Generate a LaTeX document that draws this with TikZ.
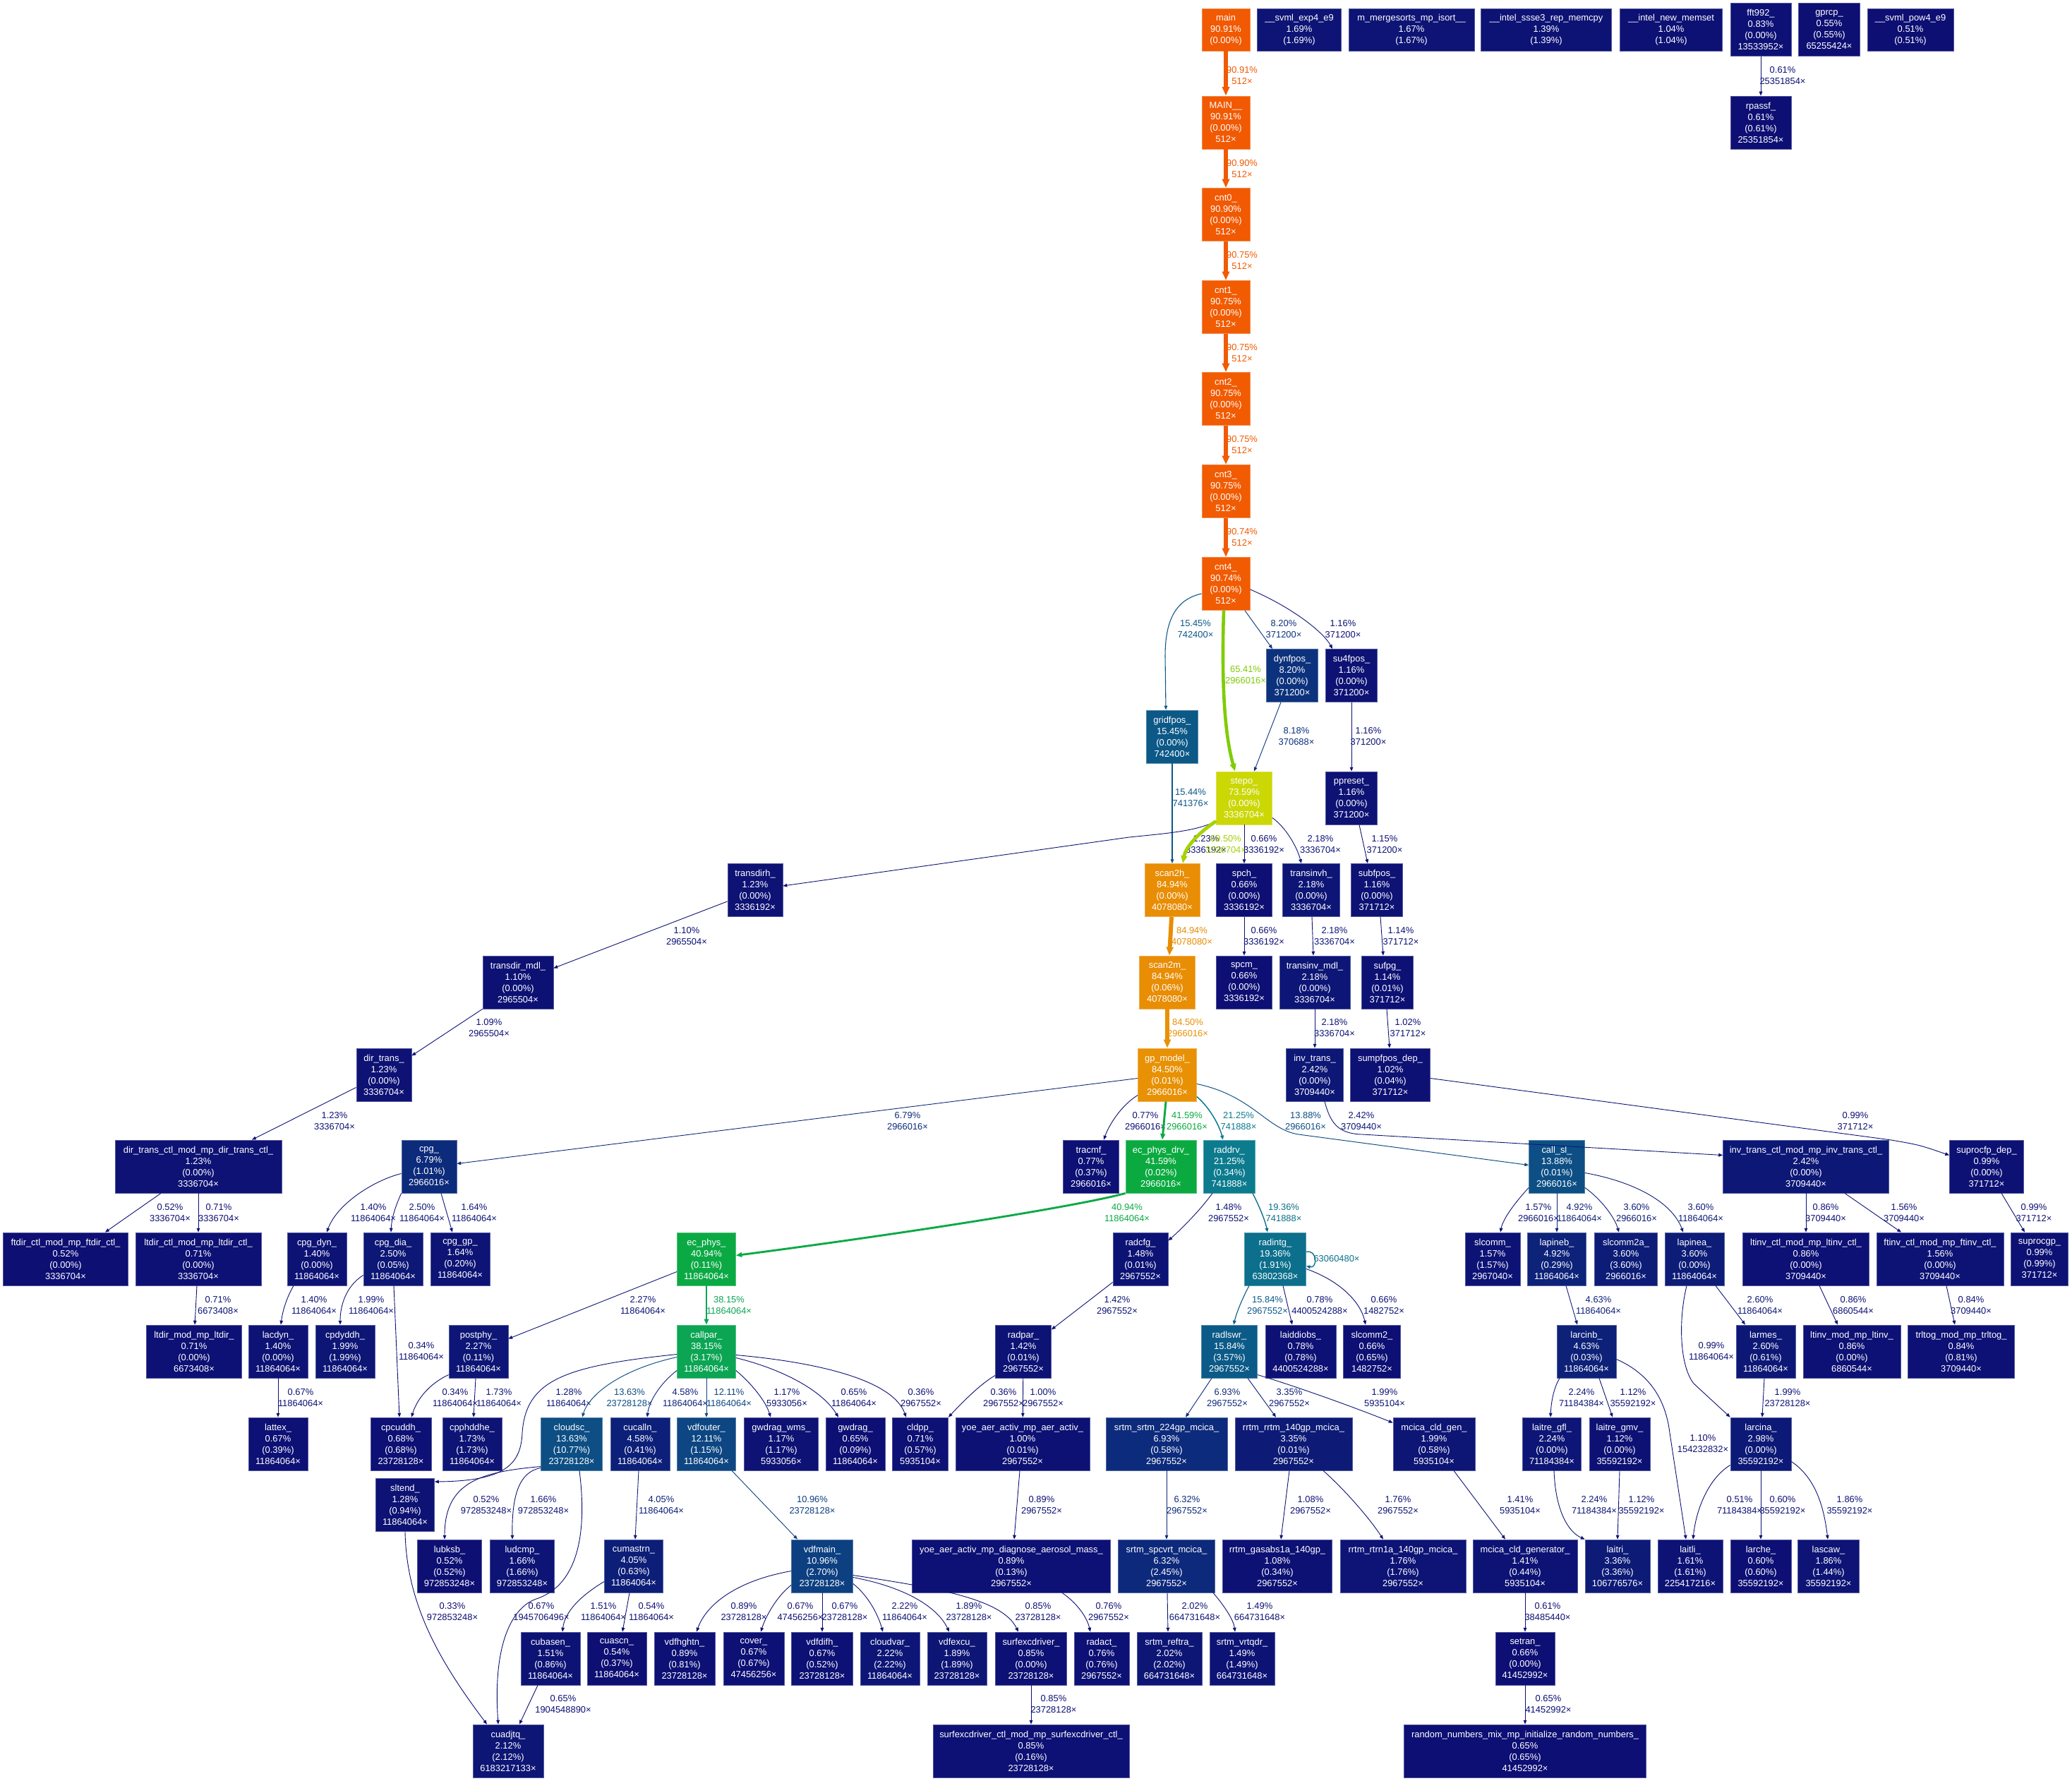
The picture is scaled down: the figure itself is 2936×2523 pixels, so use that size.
\documentclass[tikz,border=0pt]{standalone}
\usepackage{fontspec}
\setmainfont{Liberation Sans}
\usetikzlibrary{arrows.meta}
\newcommand\gphue[4]{%
  \pgfmathsetmacro\gpHx{mod(#4+1,1)}%
  \pgfmathparse{(\gpHx<1/6) ? (#2+(#3-#2)*\gpHx*6) : ((\gpHx<0.5) ? #3 : ((\gpHx<2/3) ? (#2+(#3-#2)*(2/3-\gpHx)*6) : #2))}%
  \let#1\pgfmathresult}
\newcommand\gpmkcol[2]{%
  \pgfmathsetmacro\gpH{(2/3)*(1-(#2)/100)}%
  \pgfmathsetmacro\gpS{0.8+0.2*(#2)/100}%
  \pgfmathsetmacro\gpLL{0.25+0.25*(#2)/100}%
  \pgfmathsetmacro\gpMb{\gpLL*(1+\gpS)}%
  \pgfmathsetmacro\gpMa{2*\gpLL-\gpMb}%
  \gphue\gpR\gpMa\gpMb{\gpH+1/3}%
  \gphue\gpG\gpMa\gpMb{\gpH}%
  \gphue\gpB\gpMa\gpMb{\gpH-1/3}%
  \definecolor{#1}{rgb}{\gpR,\gpG,\gpB}}
\newcommand\NF[4]{#1\\#2\%\\(#3\%)\\#4×}
\newcommand\NH[3]{#1\\#2\%\\(#3\%)}
\newcommand\EL[2]{#1\%\\#2×}
\tikzset{
  every node/.style={font=\fontsize{12.9}{16}\selectfont},
  nd/.code 2 args={\gpmkcol{ndc}{#1}\pgfkeysalso{rectangle,fill=ndc,draw=ndc!70!white,line width=0.8pt,text=white,align=center,minimum width=#2pt,minimum height=75pt,inner xsep=3pt,inner ysep=1pt}},
  short/.style={minimum height=60pt},
  ed/.code={%
    \pgfmathsetmacro\gpLW{max(7*(#1)/100,0.9)}%
    \pgfmathsetmacro\gpAL{13*max(sqrt((#1)/100),0.45)}%
    \pgfmathsetmacro\gpAW{0.8*\gpAL}%
    \gpmkcol{edc}{#1}%
    \edef\gpTmp{color=edc,line width=\gpLW pt,-{Triangle[length=\gpAL pt,width=\gpAW pt]}}%
    \expandafter\pgfkeysalso\expandafter{\gpTmp}},
  el/.style={align=center,inner sep=0pt},
}
\begin{document}
\begin{tikzpicture}[x=1pt,y=1pt]
\fill[white] (0,0) rectangle (2936,-2523);
\useasboundingbox (0,0) rectangle (2936,-2523);
% ---------------- nodes ----------------
\node[nd={90.91}{68},short] (main) at (1737,-42) {\NH{main}{90.91}{0.00}};
\node[nd={1.69}{119},short] (svmlexp) at (1841,-42) {\NH{\_\_svml\_exp4\_e9}{1.69}{1.69}};
\node[nd={1.67}{178},short] (merge) at (2000,-42) {\NH{m\_mergesorts\_mp\_isort\_\_}{1.67}{1.67}};
\node[nd={1.39}{185},short] (memcpy) at (2191,-42) {\NH{\_\_intel\_ssse3\_rep\_memcpy}{1.39}{1.39}};
\node[nd={1.04}{145},short] (memset) at (2368,-42) {\NH{\_\_intel\_new\_memset}{1.04}{1.04}};
\node[nd={0.83}{86}] (fft) at (2495,-42) {\NF{fft992\_}{0.83}{0.00}{13533952}};
\node[nd={0.55}{87}] (gprcp) at (2592,-42) {\NF{gprcp\_}{0.55}{0.55}{65255424}};
\node[nd={0.51}{122},short] (svmlpow) at (2707,-42) {\NH{\_\_svml\_pow4\_e9}{0.51}{0.51}};
\node[nd={90.91}{68}] (MAIN) at (1737,-173.5) {\NF{MAIN\_\_}{90.91}{0.00}{512}};
\node[nd={0.61}{86}] (rpassf) at (2495,-173.5) {\NF{rpassf\_}{0.61}{0.61}{25351854}};
\node[nd={90.90}{68}] (cnt0) at (1737,-304) {\NF{cnt0\_}{90.90}{0.00}{512}};
\node[nd={90.75}{68}] (cnt1) at (1737,-435) {\NF{cnt1\_}{90.75}{0.00}{512}};
\node[nd={90.75}{68}] (cnt2) at (1737,-565) {\NF{cnt2\_}{90.75}{0.00}{512}};
\node[nd={90.75}{68}] (cnt3) at (1737,-696) {\NF{cnt3\_}{90.75}{0.00}{512}};
\node[nd={90.74}{68}] (cnt4) at (1737,-827) {\NF{cnt4\_}{90.74}{0.00}{512}};
\node[nd={8.20}{73}] (dynfpos) at (1831,-957) {\NF{dynfpos\_}{8.20}{0.00}{371200}};
\node[nd={1.16}{73}] (su4fpos) at (1915,-957) {\NF{su4fpos\_}{1.16}{0.00}{371200}};
\node[nd={15.45}{73}] (gridfpos) at (1661,-1043.5) {\NF{gridfpos\_}{15.45}{0.00}{742400}};
\node[nd={73.59}{79}] (stepo) at (1763,-1130.5) {\NF{stepo\_}{73.59}{0.00}{3336704}};
\node[nd={1.16}{73}] (ppreset) at (1915,-1130.5) {\NF{ppreset\_}{1.16}{0.00}{371200}};
\node[nd={1.23}{78}] (transdirh) at (1070,-1261) {\NF{transdirh\_}{1.23}{0.00}{3336192}};
\node[nd={84.94}{78}] (scanh) at (1661,-1261) {\NF{scan2h\_}{84.94}{0.00}{4078080}};
\node[nd={0.66}{79}] (spch) at (1763,-1261) {\NF{spch\_}{0.66}{0.00}{3336192}};
\node[nd={2.18}{81}] (transinvh) at (1858,-1261) {\NF{transinvh\_}{2.18}{0.00}{3336704}};
\node[nd={1.16}{73}] (subfpos) at (1951,-1261) {\NF{subfpos\_}{1.16}{0.00}{371712}};
\node[nd={1.10}{100}] (transdirmdl) at (734,-1391.5) {\NF{transdir\_mdl\_}{1.10}{0.00}{2965504}};
\node[nd={84.94}{79}] (scanm) at (1654,-1391.5) {\NF{scan2m\_}{84.94}{0.06}{4078080}};
\node[nd={0.66}{79}] (spcm) at (1763,-1391.5) {\NF{spcm\_}{0.66}{0.00}{3336192}};
\node[nd={2.18}{100}] (transinvmdl) at (1863,-1391.5) {\NF{transinv\_mdl\_}{2.18}{0.00}{3336704}};
\node[nd={1.14}{73}] (sufpg) at (1966,-1391.5) {\NF{sufpg\_}{1.14}{0.01}{371712}};
\node[nd={1.23}{78}] (dirtrans) at (544,-1522.5) {\NF{dir\_trans\_}{1.23}{0.00}{3336704}};
\node[nd={84.50}{83}] (gpmodel) at (1654,-1522.5) {\NF{gp\_model\_}{84.50}{0.01}{2966016}};
\node[nd={2.42}{81}] (invtrans) at (1863,-1522.5) {\NF{inv\_trans\_}{2.42}{0.00}{3709440}};
\node[nd={1.02}{113}] (sumpfpos) at (1970,-1522.5) {\NF{sumpfpos\_dep\_}{1.02}{0.04}{371712}};
\node[nd={1.23}{236}] (dirtransctl) at (281,-1652.5) {\NF{dir\_trans\_ctl\_mod\_mp\_dir\_trans\_ctl\_}{1.23}{0.00}{3336704}};
\node[nd={6.79}{78}] (cpg) at (608,-1652.5) {\NF{cpg\_}{6.79}{1.01}{2966016}};
\node[nd={0.77}{79}] (tracmf) at (1546,-1652.5) {\NF{tracmf\_}{0.77}{0.37}{2966016}};
\node[nd={41.59}{100}] (ecphysdrv) at (1645,-1652.5) {\NF{ec\_phys\_drv\_}{41.59}{0.02}{2966016}};
\node[nd={21.25}{73}] (raddrv) at (1742,-1652.5) {\NF{raddrv\_}{21.25}{0.34}{741888}};
\node[nd={13.88}{79}] (callsl) at (2206,-1652.5) {\NF{call\_sl\_}{13.88}{0.01}{2966016}};
\node[nd={2.42}{235}] (invtransctl) at (2559,-1652.5) {\NF{inv\_trans\_ctl\_mod\_mp\_inv\_trans\_ctl\_}{2.42}{0.00}{3709440}};
\node[nd={0.99}{105}] (suprocfp) at (2815,-1652.5) {\NF{suprocfp\_dep\_}{0.99}{0.00}{371712}};
\node[nd={0.52}{177}] (ftdirctl) at (93,-1783.5) {\NF{ftdir\_ctl\_mod\_mp\_ftdir\_ctl\_}{0.52}{0.00}{3336704}};
\node[nd={0.71}{178}] (ltdirctl) at (281,-1783.5) {\NF{ltdir\_ctl\_mod\_mp\_ltdir\_ctl\_}{0.71}{0.00}{3336704}};
\node[nd={1.40}{84}] (cpgdyn) at (449,-1783.5) {\NF{cpg\_dyn\_}{1.40}{0.00}{11864064}};
\node[nd={2.50}{84}] (cpgdia) at (557,-1783.5) {\NF{cpg\_dia\_}{2.50}{0.05}{11864064}};
\node[nd={1.64}{84}] (cpggp) at (652,-1783.5) {\NF{cpg\_gp\_}{1.64}{0.20}{11864064}};
\node[nd={40.94}{83}] (ecphys) at (1001,-1783.5) {\NF{ec\_phys\_}{40.94}{0.11}{11864064}};
\node[nd={1.48}{78}] (radcfg) at (1616,-1783.5) {\NF{radcfg\_}{1.48}{0.01}{2967552}};
\node[nd={19.36}{87}] (radintg) at (1807,-1783.5) {\NF{radintg\_}{19.36}{1.91}{63802368}};
\node[nd={1.57}{78}] (slcomm) at (2115,-1783.5) {\NF{slcomm\_}{1.57}{1.57}{2967040}};
\node[nd={4.92}{83}] (lapineb) at (2206,-1783.5) {\NF{lapineb\_}{4.92}{0.29}{11864064}};
\node[nd={3.60}{89}] (slcommtwoa) at (2304,-1783.5) {\NF{slcomm2a\_}{3.60}{3.60}{2966016}};
\node[nd={3.60}{84}] (lapinea) at (2401,-1783.5) {\NF{lapinea\_}{3.60}{0.00}{11864064}};
\node[nd={0.86}{179}] (ltinvctl) at (2559,-1783.5) {\NF{ltinv\_ctl\_mod\_mp\_ltinv\_ctl\_}{0.86}{0.00}{3709440}};
\node[nd={1.56}{180}] (ftinvctl) at (2749,-1783.5) {\NF{ftinv\_ctl\_mod\_mp\_ftinv\_ctl\_}{1.56}{0.00}{3709440}};
\node[nd={0.99}{81}] (suprocgp) at (2890,-1783.5) {\NF{suprocgp\_}{0.99}{0.99}{371712}};
\node[nd={0.71}{135}] (ltdir) at (275,-1914.5) {\NF{ltdir\_mod\_mp\_ltdir\_}{0.71}{0.00}{6673408}};
\node[nd={1.40}{84}] (lacdyn) at (394,-1914.5) {\NF{lacdyn\_}{1.40}{0.00}{11864064}};
\node[nd={1.99}{84}] (cpdyddh) at (489,-1914.5) {\NF{cpdyddh\_}{1.99}{1.99}{11864064}};
\node[nd={2.27}{84}] (postphy) at (678,-1914.5) {\NF{postphy\_}{2.27}{0.11}{11864064}};
\node[nd={38.15}{83}] (callpar) at (1001,-1914.5) {\NF{callpar\_}{38.15}{3.17}{11864064}};
\node[nd={1.42}{79}] (radpar) at (1450,-1914.5) {\NF{radpar\_}{1.42}{0.01}{2967552}};
\node[nd={15.84}{79}] (radlswr) at (1742,-1914.5) {\NF{radlswr\_}{15.84}{3.57}{2967552}};
\node[nd={0.78}{100}] (laiddiobs) at (1843,-1914.5) {\NF{laiddiobs\_}{0.78}{0.78}{4400524288}};
\node[nd={0.66}{81}] (slcommtwo) at (1944,-1914.5) {\NF{slcomm2\_}{0.66}{0.65}{1482752}};
\node[nd={4.63}{84}] (larcinb) at (2248,-1914.5) {\NF{larcinb\_}{4.63}{0.03}{11864064}};
\node[nd={2.60}{84}] (larmes) at (2502,-1914.5) {\NF{larmes\_}{2.60}{0.61}{11864064}};
\node[nd={0.86}{138}] (ltinv) at (2624,-1914.5) {\NF{ltinv\_mod\_mp\_ltinv\_}{0.86}{0.00}{6860544}};
\node[nd={0.84}{151}] (trltog) at (2779,-1914.5) {\NF{trltog\_mod\_mp\_trltog\_}{0.84}{0.81}{3709440}};
\node[nd={0.67}{84}] (lattex) at (394,-2045.5) {\NF{lattex\_}{0.67}{0.39}{11864064}};
\node[nd={0.68}{86}] (cpcuddh) at (568,-2045.5) {\NF{cpcuddh\_}{0.68}{0.68}{23728128}};
\node[nd={1.73}{84}] (cpphddhe) at (669,-2045.5) {\NF{cpphddhe\_}{1.73}{1.73}{11864064}};
\node[nd={13.63}{87}] (cloudsc) at (810,-2045.5) {\NF{cloudsc\_}{13.63}{10.77}{23728128}};
\node[nd={4.58}{84}] (cucalln) at (907,-2045.5) {\NF{cucalln\_}{4.58}{0.41}{11864064}};
\node[nd={12.11}{83}] (vdfouter) at (1001,-2045.5) {\NF{vdfouter\_}{12.11}{1.15}{11864064}};
\node[nd={1.17}{105}] (gwdragwms) at (1107,-2045.5) {\NF{gwdrag\_wms\_}{1.17}{1.17}{5933056}};
\node[nd={0.65}{84}] (gwdrag) at (1212,-2045.5) {\NF{gwdrag\_}{0.65}{0.09}{11864064}};
\node[nd={0.71}{79}] (cldpp) at (1304,-2045.5) {\NF{cldpp\_}{0.71}{0.57}{5935104}};
\node[nd={1.00}{190}] (yoeactiv) at (1449,-2045.5) {\NF{yoe\_aer\_activ\_mp\_aer\_activ\_}{1.00}{0.01}{2967552}};
\node[nd={6.93}{172}] (srtmsrtm) at (1653,-2045.5) {\NF{srtm\_srtm\_224gp\_mcica\_}{6.93}{0.58}{2967552}};
\node[nd={3.35}{166}] (rrtmrrtm) at (1833,-2045.5) {\NF{rrtm\_rrtm\_140gp\_mcica\_}{3.35}{0.01}{2967552}};
\node[nd={1.99}{116}] (mcicagen) at (2032,-2045.5) {\NF{mcica\_cld\_gen\_}{1.99}{0.58}{5935104}};
\node[nd={2.24}{83}] (laitregfl) at (2199,-2045.5) {\NF{laitre\_gfl\_}{2.24}{0.00}{71184384}};
\node[nd={1.12}{86}] (laitregmv) at (2295,-2045.5) {\NF{laitre\_gmv\_}{1.12}{0.00}{35592192}};
\node[nd={2.98}{86}] (larcina) at (2495,-2045.5) {\NF{larcina\_}{2.98}{0.00}{35592192}};
\node[nd={1.28}{83}] (sltend) at (574,-2132) {\NF{sltend\_}{1.28}{0.94}{11864064}};
\node[nd={0.52}{91}] (lubksb) at (637,-2218.5) {\NF{lubksb\_}{0.52}{0.52}{972853248}};
\node[nd={1.66}{91}] (ludcmp) at (740,-2218.5) {\NF{ludcmp\_}{1.66}{1.66}{972853248}};
\node[nd={4.05}{83}] (cumastrn) at (898,-2218.5) {\NF{cumastrn\_}{4.05}{0.63}{11864064}};
\node[nd={10.96}{87}] (vdfmain) at (1165,-2218.5) {\NF{vdfmain\_}{10.96}{2.70}{23728128}};
\node[nd={0.89}{281}] (yoediag) at (1433,-2218.5) {\NF{yoe\_aer\_activ\_mp\_diagnose\_aerosol\_mass\_}{0.89}{0.13}{2967552}};
\node[nd={6.32}{137}] (srtmspcvrt) at (1653,-2218.5) {\NF{srtm\_spcvrt\_mcica\_}{6.32}{2.45}{2967552}};
\node[nd={1.08}{155}] (rrtmgasabs) at (1810,-2218.5) {\NF{rrtm\_gasabs1a\_140gp\_}{1.08}{0.34}{2967552}};
\node[nd={1.76}{178}] (rrtmrtrn) at (1988,-2218.5) {\NF{rrtm\_rtrn1a\_140gp\_mcica\_}{1.76}{1.76}{2967552}};
\node[nd={1.41}{148}] (mcicagenerator) at (2161,-2218.5) {\NF{mcica\_cld\_generator\_}{1.41}{0.44}{5935104}};
\node[nd={3.36}{92}] (laitri) at (2292,-2218.5) {\NF{laitri\_}{3.36}{3.36}{106776576}};
\node[nd={1.61}{92}] (laitli) at (2395,-2218.5) {\NF{laitli\_}{1.61}{1.61}{225417216}};
\node[nd={0.60}{86}] (larche) at (2495,-2218.5) {\NF{larche\_}{0.60}{0.60}{35592192}};
\node[nd={1.86}{87}] (lascaw) at (2591,-2218.5) {\NF{lascaw\_}{1.86}{1.44}{35592192}};
\node[nd={1.51}{84}] (cubasen) at (780,-2349.5) {\NF{cubasen\_}{1.51}{0.86}{11864064}};
\node[nd={0.54}{84}] (cuascn) at (874,-2349.5) {\NF{cuascn\_}{0.54}{0.37}{11864064}};
\node[nd={0.89}{86}] (vdfhghtn) at (970,-2349.5) {\NF{vdfhghtn\_}{0.89}{0.81}{23728128}};
\node[nd={0.67}{86}] (cover) at (1068,-2349.5) {\NF{cover\_}{0.67}{0.67}{47456256}};
\node[nd={0.67}{87}] (vdfdifh) at (1165,-2349.5) {\NF{vdfdifh\_}{0.67}{0.52}{23728128}};
\node[nd={2.22}{84}] (cloudvar) at (1261,-2349.5) {\NF{cloudvar\_}{2.22}{2.22}{11864064}};
\node[nd={1.89}{84}] (vdfexcu) at (1356,-2349.5) {\NF{vdfexcu\_}{1.89}{1.89}{23728128}};
\node[nd={0.85}{101}] (surfexc) at (1461,-2349.5) {\NF{surfexcdriver\_}{0.85}{0.00}{23728128}};
\node[nd={0.76}{78}] (radact) at (1561,-2349.5) {\NF{radact\_}{0.76}{0.76}{2967552}};
\node[nd={2.02}{92}] (srtmreftra) at (1657,-2349.5) {\NF{srtm\_reftra\_}{2.02}{2.02}{664731648}};
\node[nd={1.49}{92}] (srtmvrtqdr) at (1760,-2349.5) {\NF{srtm\_vrtqdr\_}{1.49}{1.49}{664731648}};
\node[nd={0.66}{84}] (setran) at (2161,-2349.5) {\NF{setran\_}{0.66}{0.00}{41452992}};
\node[nd={2.12}{100}] (cuadjtq) at (720,-2480.5) {\NF{cuadjtq\_}{2.12}{2.12}{6183217133}};
\node[nd={0.85}{278}] (surfexcctl) at (1461,-2480.5) {\NF{surfexcdriver\_ctl\_mod\_mp\_surfexcdriver\_ctl\_}{0.85}{0.16}{23728128}};
\node[nd={0.65}{343}] (random) at (2161,-2480.5) {\NF{random\_numbers\_mix\_mp\_initialize\_random\_numbers\_}{0.65}{0.65}{41452992}};
% ---------------- edges ----------------
\draw[ed=90.91] (main) -- (MAIN) node[el,at={(1760,-107)}] {\EL{90.91}{512}};
\draw[ed=90.90] (MAIN) -- (cnt0) node[el,at={(1760,-239)}] {\EL{90.90}{512}};
\draw[ed=90.75] (cnt0) -- (cnt1) node[el,at={(1760,-369)}] {\EL{90.75}{512}};
\draw[ed=90.75] (cnt1) -- (cnt2) node[el,at={(1760,-500)}] {\EL{90.75}{512}};
\draw[ed=90.75] (cnt2) -- (cnt3) node[el,at={(1760,-630)}] {\EL{90.75}{512}};
\draw[ed=90.74] (cnt3) -- (cnt4) node[el,at={(1760,-761)}] {\EL{90.74}{512}};
\draw[ed=0.61] (fft) -- (rpassf) node[el,at={(2526,-107)}] {\EL{0.61}{25351854}};
\draw[ed=15.45] ([yshift=-14pt]cnt4.west) .. controls (1662,-850) and (1651,-885) .. (1651,-930) -- ([xshift=-9pt]gridfpos.north) node[el,at={(1694,-891)}] {\EL{15.45}{742400}};
\draw[ed=65.41] ([xshift=-3pt]cnt4.south) .. controls (1730,-990) and (1738,-1050) .. ([xshift=-13pt]stepo.north) node[el,at={(1765,-956)}] {\EL{65.41}{2966016}};
\draw[ed=8.20] ([xshift=27pt]cnt4.south) -- ([xshift=-28pt]dynfpos.north) node[el,at={(1819,-891)}] {\EL{8.20}{371200}};
\draw[ed=1.16] ([yshift=-8pt]cnt4.east) .. controls (1830,-860) and (1875,-895) .. ([xshift=-27pt]su4fpos.north) node[el,at={(1903,-891)}] {\EL{1.16}{371200}};
\draw[ed=15.44] (gridfpos) -- (scanh) node[el,at={(1687,-1130)}] {\EL{15.44}{741376}};
\draw[ed=8.18] ([xshift=-16pt]dynfpos.south) -- ([xshift=14pt]stepo.north) node[el,at={(1837,-1043)}] {\EL{8.18}{370688}};
\draw[ed=1.16] (su4fpos) -- (ppreset) node[el,at={(1939,-1043)}] {\EL{1.16}{371200}};
\draw[ed=1.23] ([yshift=5pt]stepo.south west) .. controls (1695,-1177) and (1660,-1180) .. (1600,-1186) -- ([yshift=6pt]transdirh.east) node[el,at={(1709,-1196)}] {\EL{1.23}{3336192}};
\draw[ed=69.50] ([yshift=5pt]stepo.south west) .. controls (1700,-1178) and (1680,-1200) .. ([xshift=15pt]scanh.north) node[el,at={(1737,-1196)}] {\EL{69.50}{3336704}};
\draw[ed=0.66] (stepo) -- (spch) node[el,at={(1791,-1196)}] {\EL{0.66}{3336192}};
\draw[ed=2.18] ([yshift=-28pt]stepo.east) .. controls (1822,-1172) and (1838,-1200) .. ([xshift=-14pt]transinvh.north) node[el,at={(1871,-1196)}] {\EL{2.18}{3336704}};
\draw[ed=1.15] ([xshift=11pt]ppreset.south) -- ([xshift=-13pt]subfpos.north) node[el,at={(1962,-1196)}] {\EL{1.15}{371200}};
\draw[ed=84.94] ([xshift=-1pt]scanh.south) -- ([xshift=3pt]scanm.north) node[el,at={(1689,-1326)}] {\EL{84.94}{4078080}};
\draw[ed=0.66] (spch) -- (spcm) node[el,at={(1791,-1326)}] {\EL{0.66}{3336192}};
\draw[ed=2.18] ([xshift=1pt]transinvh.south) -- ([xshift=-2pt]transinvmdl.north) node[el,at={(1891,-1326)}] {\EL{2.18}{3336704}};
\draw[ed=1.14] ([xshift=5pt]subfpos.south) -- ([xshift=-6pt]sufpg.north) node[el,at={(1985,-1326)}] {\EL{1.14}{371712}};
\draw[ed=1.10] ([yshift=-16pt]transdirh.west) -- ([yshift=20pt]transdirmdl.east) node[el,at={(973,-1326)}] {\EL{1.10}{2965504}};
\draw[ed=84.50] (scanm) -- (gpmodel) node[el,at={(1683,-1456)}] {\EL{84.50}{2966016}};
\draw[ed=2.18] (transinvmdl) -- (invtrans) node[el,at={(1891,-1456)}] {\EL{2.18}{3336704}};
\draw[ed=1.02] ([xshift=-1pt]sufpg.south) -- ([xshift=-1pt]sumpfpos.north) node[el,at={(1995,-1456)}] {\EL{1.02}{371712}};
\draw[ed=1.09] (transdirmdl.south west) -- ([yshift=27pt]dirtrans.east) node[el,at={(693,-1456)}] {\EL{1.09}{2965504}};
\draw[ed=1.23] ([yshift=-18pt]dirtrans.west) -- ([xshift=76pt]dirtransctl.north) node[el,at={(474,-1588)}] {\EL{1.23}{3336704}};
\draw[ed=6.79] ([yshift=-5pt]gpmodel.west) -- ([yshift=4pt]cpg.east) node[el,at={(1286,-1588)}] {\EL{6.79}{2966016}};
\draw[ed=0.77] ([yshift=-29pt]gpmodel.west) .. controls (1590,-1565) and (1572,-1592) .. ([xshift=18pt]tracmf.north) node[el,at={(1623,-1588)}] {\EL{0.77}{2966016}};
\draw[ed=41.59] ([xshift=-2pt]gpmodel.south) -- ([xshift=2pt]ecphysdrv.north) node[el,at={(1682,-1588)}] {\EL{41.59}{2966016}};
\draw[ed=21.25] ([yshift=-31pt]gpmodel.east) .. controls (1715,-1570) and (1728,-1595) .. ([xshift=-9pt]raddrv.north) node[el,at={(1755,-1588)}] {\EL{21.25}{741888}};
\draw[ed=13.88] ([yshift=-13pt]gpmodel.east) .. controls (1775,-1552) and (1795,-1600) .. (1840,-1607) -- ([yshift=2pt]callsl.west) node[el,at={(1850,-1588)}] {\EL{13.88}{2966016}};
\draw[ed=2.42] ([xshift=14pt]invtrans.south) .. controls (1885,-1590) and (1895,-1606) .. (1930,-1607) -- ([yshift=16pt]invtransctl.west) node[el,at={(1929,-1588)}] {\EL{2.42}{3709440}};
\draw[ed=0.99] ([yshift=-5pt]sumpfpos.east) -- (2680,-1615) .. controls (2720,-1622) .. ([yshift=16pt]suprocfp.west) node[el,at={(2629,-1588)}] {\EL{0.99}{371712}};
\draw[ed=0.52] ([xshift=-53pt]dirtransctl.south) -- ([xshift=56pt]ftdirctl.north) node[el,at={(241,-1718)}] {\EL{0.52}{3336704}};
\draw[ed=0.71] (dirtransctl) -- (ltdirctl) node[el,at={(310,-1718)}] {\EL{0.71}{3336704}};
\draw[ed=0.71] ([xshift=-2pt]ltdirctl.south) -- ([xshift=1pt]ltdir.north) node[el,at={(309,-1849)}] {\EL{0.71}{6673408}};
\draw[ed=1.40] ([yshift=-10pt]cpg.west) .. controls (530,-1672) and (478,-1705) .. ([xshift=14pt]cpgdyn.north) node[el,at={(529,-1718)}] {\EL{1.40}{11864064}};
\draw[ed=2.50] (cpg.south west) .. controls (560,-1710) and (555,-1725) .. ([xshift=-3pt]cpgdia.north) node[el,at={(598,-1718)}] {\EL{2.50}{11864064}};
\draw[ed=1.64] ([xshift=17pt]cpg.south) -- ([xshift=-11pt]cpggp.north) node[el,at={(672,-1718)}] {\EL{1.64}{11864064}};
\draw[ed=1.40] ([xshift=-33pt]cpgdyn.south) .. controls (405,-1840) and (400,-1860) .. ([xshift=4pt]lacdyn.north) node[el,at={(445,-1849)}] {\EL{1.40}{11864064}};
\draw[ed=1.99] ([yshift=-23pt]cpgdia.west) .. controls (490,-1822) and (482,-1850) .. ([xshift=-7pt]cpdyddh.north) node[el,at={(526,-1849)}] {\EL{1.99}{11864064}};
\draw[ed=0.34] ([xshift=1pt]cpgdia.south) -- ([xshift=-2pt]cpcuddh.north) node[el,at={(597,-1914)}] {\EL{0.34}{11864064}};
\draw[ed=0.67] (lacdyn) -- (lattex) node[el,at={(426,-1980)}] {\EL{0.67}{11864064}};
\draw[ed=0.34] ([yshift=-33pt]postphy.west) .. controls (605,-1962) and (590,-1985) .. ([xshift=15pt]cpcuddh.north) node[el,at={(645,-1980)}] {\EL{0.34}{11864064}};
\draw[ed=1.73] ([xshift=-4pt]postphy.south) -- ([xshift=2pt]cpphddhe.north) node[el,at={(707,-1980)}] {\EL{1.73}{11864064}};
\draw[ed=2.27] ([yshift=-18pt]ecphys.west) -- ([yshift=18pt]postphy.east) node[el,at={(911,-1849)}] {\EL{2.27}{11864064}};
\draw[ed=40.94] (ecphysdrv.south west) .. controls (1530,-1708) and (1300,-1745) .. ([yshift=5pt]ecphys.east) node[el,at={(1597,-1718)}] {\EL{40.94}{11864064}};
\draw[ed=38.15] (ecphys) -- (callpar) node[el,at={(1033,-1849)}] {\EL{38.15}{11864064}};
\draw[ed=1.28] ([yshift=-4pt]callpar.west) .. controls (800,-1935) and (745,-1955) .. (740,-2030) .. controls (738,-2075) and (715,-2098) .. ([yshift=33pt]sltend.east) node[el,at={(806,-1980)}] {\EL{1.28}{11864064}};
\draw[ed=13.63] ([yshift=-8pt]callpar.west) .. controls (880,-1940) and (835,-1975) .. ([xshift=15pt]cloudsc.north) node[el,at={(892,-1980)}] {\EL{13.63}{23728128}};
\draw[ed=4.58] ([yshift=-27pt]callpar.west) .. controls (935,-1960) and (920,-1985) .. ([xshift=10pt]cucalln.north) node[el,at={(971,-1980)}] {\EL{4.58}{11864064}};
\draw[ed=12.11] (callpar) -- (vdfouter) node[el,at={(1033,-1980)}] {\EL{12.11}{11864064}};
\draw[ed=1.17] ([yshift=-27pt]callpar.east) .. controls (1065,-1960) and (1085,-1985) .. ([xshift=-15pt]gwdragwms.north) node[el,at={(1115,-1980)}] {\EL{1.17}{5933056}};
\draw[ed=0.65] ([yshift=-9pt]callpar.east) .. controls (1110,-1940) and (1165,-1970) .. ([xshift=-24pt]gwdrag.north) node[el,at={(1210,-1980)}] {\EL{0.65}{11864064}};
\draw[ed=0.36] ([yshift=-5pt]callpar.east) .. controls (1160,-1930) and (1265,-1955) .. ([xshift=-20pt]cldpp.north) node[el,at={(1305,-1980)}] {\EL{0.36}{2967552}};
\draw[ed=0.36] ([yshift=-34pt]radpar.west) .. controls (1390,-1960) and (1365,-1985) .. (cldpp.north east) node[el,at={(1422,-1980)}] {\EL{0.36}{2967552}};
\draw[ed=1.00] (radpar) -- (yoeactiv) node[el,at={(1478,-1980)}] {\EL{1.00}{2967552}};
\draw[ed=0.52] ([yshift=-32pt]cloudsc.west) .. controls (680,-2085) and (630,-2100) .. ([xshift=-7pt]lubksb.north) node[el,at={(689,-2132)}] {\EL{0.52}{972853248}};
\draw[ed=1.66] ([yshift=-34pt]cloudsc.west) .. controls (735,-2085) and (725,-2120) .. ([xshift=-14pt]ludcmp.north) node[el,at={(770,-2132)}] {\EL{1.66}{972853248}};
\draw[ed=0.67] ([xshift=11pt]cloudsc.south) .. controls (832,-2170) and (820,-2245) .. (760,-2265) .. controls (725,-2277) and (698,-2330) .. ([xshift=-14pt]cuadjtq.north) node[el,at={(767,-2283)}] {\EL{0.67}{1945706496}};
\draw[ed=0.33] (sltend.south) .. controls (576,-2270) and (620,-2350) .. ([xshift=-30pt]cuadjtq.north) node[el,at={(641,-2283)}] {\EL{0.33}{972853248}};
\draw[ed=0.65] ([xshift=-18pt]cubasen.south) -- ([xshift=16pt]cuadjtq.north) node[el,at={(798,-2414)}] {\EL{0.65}{1904548890}};
\draw[ed=4.05] ([xshift=-2pt]cucalln.south) -- ([xshift=2pt]cumastrn.north) node[el,at={(937,-2132)}] {\EL{4.05}{11864064}};
\draw[ed=10.96] ([xshift=36pt]vdfouter.south) -- ([xshift=-35pt]vdfmain.north) node[el,at={(1151,-2132)}] {\EL{10.96}{23728128}};
\draw[ed=0.89] ([xshift=-4pt]yoeactiv.south) -- ([xshift=4pt]yoediag.north) node[el,at={(1476,-2132)}] {\EL{0.89}{2967552}};
\draw[ed=1.51] ([yshift=-22pt]cumastrn.west) .. controls (820,-2262) and (800,-2285) .. ([xshift=17pt]cubasen.north) node[el,at={(855,-2283)}] {\EL{1.51}{11864064}};
\draw[ed=0.54] ([xshift=-6pt]cumastrn.south) -- ([xshift=8pt]cuascn.north) node[el,at={(923,-2283)}] {\EL{0.54}{11864064}};
\draw[ed=0.89] ([yshift=-7pt]vdfmain.west) .. controls (1040,-2240) and (1000,-2275) .. ([xshift=17pt]vdfhghtn.north) node[el,at={(1054,-2283)}] {\EL{0.89}{23728128}};
\draw[ed=0.67] ([yshift=-27pt]vdfmain.west) .. controls (1100,-2262) and (1085,-2290) .. ([xshift=10pt]cover.north) node[el,at={(1134,-2283)}] {\EL{0.67}{47456256}};
\draw[ed=0.67] (vdfmain) -- (vdfdifh) node[el,at={(1197,-2283)}] {\EL{0.67}{23728128}};
\draw[ed=2.22] ([yshift=-25pt]vdfmain.east) .. controls (1232,-2262) and (1245,-2290) .. ([xshift=-10pt]cloudvar.north) node[el,at={(1282,-2283)}] {\EL{2.22}{11864064}};
\draw[ed=1.89] ([yshift=-16pt]vdfmain.east) .. controls (1290,-2250) and (1330,-2280) .. ([xshift=-11pt]vdfexcu.north) node[el,at={(1373,-2283)}] {\EL{1.89}{23728128}};
\draw[ed=0.85] ([yshift=-13pt]vdfmain.east) .. controls (1330,-2250) and (1420,-2265) .. ([xshift=-18pt]surfexc.north) node[el,at={(1471,-2283)}] {\EL{0.85}{23728128}};
\draw[ed=0.85] (surfexc) -- (surfexcctl) node[el,at={(1493,-2414)}] {\EL{0.85}{23728128}};
\draw[ed=0.76] ([xshift=72pt]yoediag.south) .. controls (1525,-2270) and (1540,-2290) .. ([xshift=-16pt]radact.north) node[el,at={(1571,-2283)}] {\EL{0.76}{2967552}};
\draw[ed=1.48] ([xshift=-24pt]raddrv.south) .. controls (1700,-1715) and (1675,-1740) .. ([yshift=26pt]radcfg.east) node[el,at={(1741,-1718)}] {\EL{1.48}{2967552}};
\draw[ed=19.36] ([xshift=33pt]raddrv.south) .. controls (1785,-1710) and (1793,-1730) .. ([xshift=-11pt]radintg.north) node[el,at={(1819,-1718)}] {\EL{19.36}{741888}};
\draw[ed=19.36] ([yshift=10pt]radintg.east) .. controls +(16,4) and +(16,-4) .. ([yshift=-10pt]radintg.east) node[el,at={(1894,-1783)}] {63060480×};
\draw[ed=1.42] ([yshift=-33pt]radcfg.west) -- ([yshift=31pt]radpar.east) node[el,at={(1583,-1849)}] {\EL{1.42}{2967552}};
\draw[ed=15.84] ([xshift=-37pt]radintg.south) .. controls (1760,-1840) and (1752,-1860) .. ([xshift=6pt]radlswr.north) node[el,at={(1796,-1849)}] {\EL{15.84}{2967552}};
\draw[ed=0.78] ([xshift=11pt]radintg.south) -- ([xshift=-12pt]laiddiobs.north) node[el,at={(1870,-1849)}] {\EL{0.78}{4400524288}};
\draw[ed=0.66] ([yshift=-14pt]radintg.east) .. controls (1900,-1815) and (1928,-1845) .. ([xshift=-9pt]slcommtwo.north) node[el,at={(1961,-1849)}] {\EL{0.66}{1482752}};
\draw[ed=6.93] ([xshift=-25pt]radlswr.south) -- ([xshift=27pt]srtmsrtm.north) node[el,at={(1739,-1980)}] {\EL{6.93}{2967552}};
\draw[ed=3.35] ([xshift=26pt]radlswr.south) -- ([xshift=-25pt]rrtmrrtm.north) node[el,at={(1827,-1980)}] {\EL{3.35}{2967552}};
\draw[ed=1.99] ([yshift=-33pt]radlswr.east) .. controls (1830,-1962) and (1910,-1990) .. ([yshift=30pt]mcicagen.west) node[el,at={(1962,-1980)}] {\EL{1.99}{5935104}};
\draw[ed=6.32] (srtmsrtm) -- (srtmspcvrt) node[el,at={(1682,-2132)}] {\EL{6.32}{2967552}};
\draw[ed=1.08] ([xshift=-6pt]rrtmrrtm.south) -- ([xshift=5pt]rrtmgasabs.north) node[el,at={(1857,-2132)}] {\EL{1.08}{2967552}};
\draw[ed=1.76] ([xshift=42pt]rrtmrrtm.south) .. controls (1905,-2110) and (1940,-2150) .. ([xshift=-28pt]rrtmrtrn.north) node[el,at={(1981,-2132)}] {\EL{1.76}{2967552}};
\draw[ed=1.41] ([xshift=28pt]mcicagen.south) -- ([xshift=-28pt]mcicagenerator.north) node[el,at={(2154,-2132)}] {\EL{1.41}{5935104}};
\draw[ed=2.02] ([xshift=1pt]srtmspcvrt.south) -- ([xshift=-2pt]srtmreftra.north) node[el,at={(1693,-2283)}] {\EL{2.02}{664731648}};
\draw[ed=1.49] ([xshift=66pt]srtmspcvrt.south) .. controls (1735,-2275) and (1748,-2295) .. ([xshift=-10pt]srtmvrtqdr.north) node[el,at={(1785,-2283)}] {\EL{1.49}{664731648}};
\draw[ed=0.61] (mcicagenerator) -- (setran) node[el,at={(2193,-2283)}] {\EL{0.61}{38485440}};
\draw[ed=0.65] (setran) -- (random) node[el,at={(2194,-2414)}] {\EL{0.65}{41452992}};
\draw[ed=1.57] ([yshift=-30pt]callsl.west) .. controls (2150,-1700) and (2130,-1725) .. ([xshift=11pt]slcomm.north) node[el,at={(2180,-1718)}] {\EL{1.57}{2966016}};
\draw[ed=4.92] (callsl) -- (lapineb) node[el,at={(2238,-1718)}] {\EL{4.92}{11864064}};
\draw[ed=3.60] ([yshift=-30pt]callsl.east) .. controls (2270,-1700) and (2288,-1725) .. ([xshift=-10pt]slcommtwoa.north) node[el,at={(2319,-1718)}] {\EL{3.60}{2966016}};
\draw[ed=3.60] ([yshift=-9pt]callsl.east) .. controls (2320,-1675) and (2370,-1705) .. ([xshift=-16pt]lapinea.north) node[el,at={(2410,-1718)}] {\EL{3.60}{11864064}};
\draw[ed=0.86] (invtransctl) -- (ltinvctl) node[el,at={(2587,-1718)}] {\EL{0.86}{3709440}};
\draw[ed=1.56] ([xshift=55pt]invtransctl.south) -- ([xshift=-55pt]ftinvctl.north) node[el,at={(2698,-1718)}] {\EL{1.56}{3709440}};
\draw[ed=0.99] ([xshift=21pt]suprocfp.south) -- ([xshift=-21pt]suprocgp.north) node[el,at={(2882,-1718)}] {\EL{0.99}{371712}};
\draw[ed=4.63] ([xshift=13pt]lapineb.south) -- ([xshift=-13pt]larcinb.north) node[el,at={(2265,-1849)}] {\EL{4.63}{11864064}};
\draw[ed=2.60] ([xshift=30pt]lapinea.south) -- ([xshift=-29pt]larmes.north) node[el,at={(2494,-1849)}] {\EL{2.60}{11864064}};
\draw[ed=0.99] ([xshift=-11pt]lapinea.south) .. controls (2378,-1870) and (2380,-1935) .. (2400,-1960) -- (larcina.north west) node[el,at={(2425,-1914)}] {\EL{0.99}{11864064}};
\draw[ed=0.86] ([xshift=19pt]ltinvctl.south) -- ([xshift=-20pt]ltinv.north) node[el,at={(2626,-1849)}] {\EL{0.86}{6860544}};
\draw[ed=0.84] ([xshift=9pt]ftinvctl.south) -- ([xshift=-9pt]trltog.north) node[el,at={(2793,-1849)}] {\EL{0.84}{3709440}};
\draw[ed=2.24] ([xshift=-38pt]larcinb.south) .. controls (2202,-1965) and (2198,-1985) .. ([xshift=-2pt]laitregfl.north) node[el,at={(2241,-1980)}] {\EL{2.24}{71184384}};
\draw[ed=1.12] ([xshift=18pt]larcinb.south) -- ([xshift=-10pt]laitregmv.north) node[el,at={(2314,-1980)}] {\EL{1.12}{35592192}};
\draw[ed=1.10] ([yshift=-11pt]larcinb.east) .. controls (2335,-1945) and (2360,-1980) .. (2366,-2030) -- ([xshift=-6pt]laitli.north) node[el,at={(2413,-2045)}] {\EL{1.10}{154232832}};
\draw[ed=1.99] ([xshift=-2pt]larmes.south) -- ([xshift=2pt]larcina.north) node[el,at={(2533,-1980)}] {\EL{1.99}{23728128}};
\draw[ed=2.24] ([xshift=3pt]laitregfl.south) .. controls (2204,-2140) and (2222,-2170) .. (laitri.north west) node[el,at={(2259,-2132)}] {\EL{2.24}{71184384}};
\draw[ed=1.12] (laitregmv.south) -- (laitri.north) node[el,at={(2326,-2132)}] {\EL{1.12}{35592192}};
\draw[ed=0.51] ([yshift=-30pt]larcina.west) .. controls (2420,-2095) and (2403,-2140) .. ([xshift=4pt]laitli.north) node[el,at={(2465,-2132)}] {\EL{0.51}{71184384}};
\draw[ed=0.60] (larcina) -- (larche) node[el,at={(2526,-2132)}] {\EL{0.60}{35592192}};
\draw[ed=1.86] ([yshift=-25pt]larcina.east) .. controls (2575,-2095) and (2585,-2140) .. ([xshift=-1pt]lascaw.north) node[el,at={(2621,-2132)}] {\EL{1.86}{35592192}};
\end{tikzpicture}
\end{document}
